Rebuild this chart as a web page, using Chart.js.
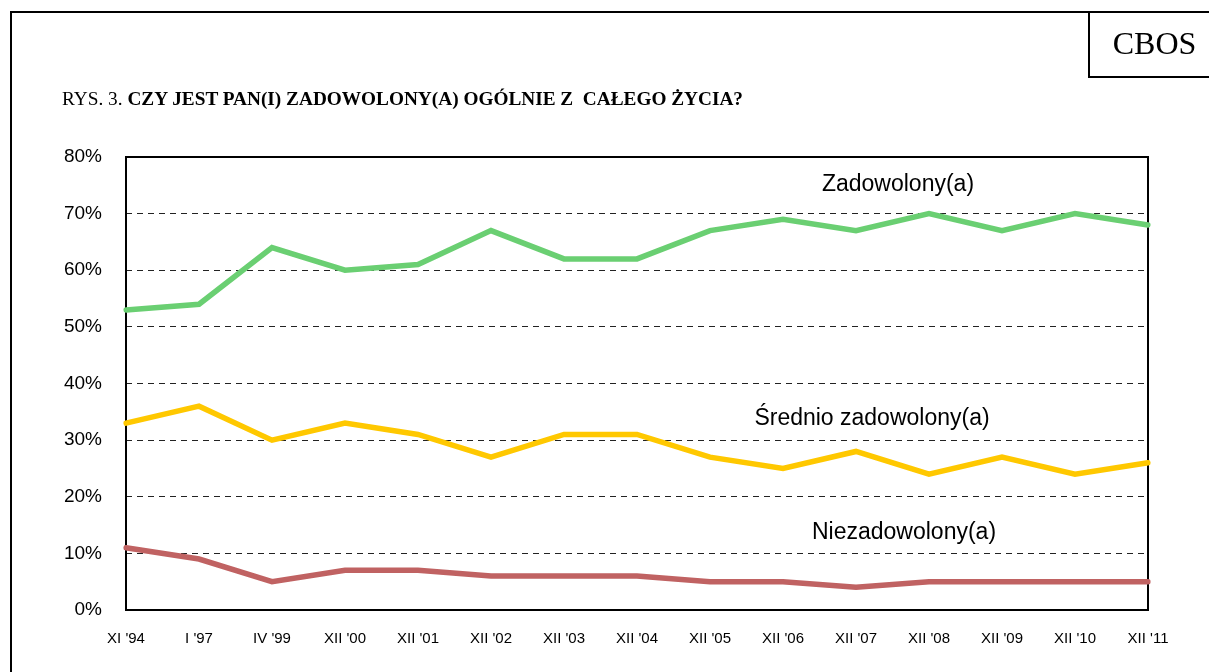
<!DOCTYPE html>
<html>
<head>
<meta charset="utf-8">
<script src="https://cdn.jsdelivr.net/npm/chart.js@4"></script>
<style>
  body { margin: 0; background: #fff; width: 1209px; height: 672px; overflow: hidden; position: relative; }
  #frameTop { position: absolute; left: 10px; top: 11px; width: 1199px; height: 2px; background: #000; }
  #frameLeft { position: absolute; left: 10px; top: 11px; width: 2px; height: 661px; background: #000; }
  #cbos { position: absolute; left: 1088px; top: 11px; width: 121px; height: 67px; border-left: 2px solid #000; border-bottom: 2px solid #000; box-sizing: border-box;
    font-family: "Liberation Serif", "Times New Roman", serif; font-size: 32px; line-height: 64px; text-align: center; padding-left: 10px; }
  #title { position: absolute; left: 62px; top: 88px; font-family: "Liberation Serif", "Times New Roman", serif; font-size: 19.3px; white-space: pre; }
  #title b { font-weight: bold; }
  .lbl { position: absolute; font-family: "Liberation Sans", Arial, sans-serif; font-size: 23px; white-space: nowrap; transform: translate(-50%, -50%); }
  #wrap { position: absolute; left: 0; top: 0; width: 1209px; height: 672px; }
</style>
</head>
<body>
<div id="wrap"><canvas id="chart" width="1209" height="672"></canvas></div>
<div id="frameTop"></div>
<div id="frameLeft"></div>
<div id="cbos">CBOS</div>
<div id="title">RYS. 3. <b>CZY JEST PAN(I) ZADOWOLONY(A) OGÓLNIE Z  CAŁEGO ŻYCIA?</b></div>
<div class="lbl" style="left:898px; top:183px;">Zadowolony(a)</div>
<div class="lbl" style="left:872px; top:417px;">Średnio zadowolony(a)</div>
<div class="lbl" style="left:904px; top:531px;">Niezadowolony(a)</div>
<script>
const categories = ["XI '94", "I '97", "IV '99", "XII '00", "XII '01", "XII '02", "XII '03", "XII '04", "XII '05", "XII '06", "XII '07", "XII '08", "XII '09", "XII '10", "XII '11"];
const zadowolony = [53, 54, 64, 60, 61, 67, 62, 62, 67, 69, 67, 70, 67, 70, 68];
const srednio = [33, 36, 30, 33, 31, 27, 31, 31, 27, 25, 28, 24, 27, 24, 26];
const niezadowolony = [11, 9, 5, 7, 7, 6, 6, 6, 5, 5, 4, 5, 5, 5, 5];
const yTicks = [0, 10, 20, 30, 40, 50, 60, 70, 80];

// solid frame round the plot area
const boxPlugin = {
  id: 'box',
  beforeDatasetsDraw(chart) {
    const a = chart.chartArea;
    const ctx = chart.ctx;
    ctx.save();
    ctx.strokeStyle = '#000';
    ctx.lineWidth = 2;
    ctx.strokeRect(a.left, a.top, a.right - a.left, a.bottom - a.top);
    ctx.restore();
  }
};

const ctx = document.getElementById('chart').getContext('2d');
new Chart(ctx, {
  type: 'line',
  data: {
    labels: categories,
    datasets: [
      { label: 'Zadowolony(a)', data: zadowolony, borderColor: '#6acf72' },
      { label: 'Średnio zadowolony(a)', data: srednio, borderColor: '#ffc800' },
      { label: 'Niezadowolony(a)', data: niezadowolony, borderColor: '#c06262' }
    ]
  },
  options: {
    responsive: false,
    animation: false,
    devicePixelRatio: 1,
    layout: { padding: { top: 157, right: 61, bottom: 0, left: 0 } },
    elements: {
      line: { borderWidth: 5.5, tension: 0, borderCapStyle: 'round', borderJoinStyle: 'miter' },
      point: { radius: 0 }
    },
    plugins: { legend: { display: false }, tooltip: { enabled: false } },
    scales: {
      x: {
        offset: false,
        grid: { display: false },
        border: { display: false },
        ticks: { color: '#000', font: { family: 'Liberation Sans', size: 15 }, padding: 12, maxRotation: 0, autoSkip: false },
        afterFit(scale) { scale.height = 62; }
      },
      y: {
        min: 0,
        max: 80,
        afterBuildTicks(scale) { scale.ticks = yTicks.map(v => ({ value: v })); },
        grid: {
          drawTicks: false,
          color: c => (c.tick.value === 0 || c.tick.value === 80) ? 'rgba(0,0,0,0)' : '#222',
          lineWidth: 1
        },
        border: { display: false, dash: [6, 5] },
        ticks: { color: '#000', font: { family: 'Liberation Sans', size: 19 }, padding: 24, callback: v => v + '%' },
        afterFit(scale) { scale.width = 126; }
      }
    }
  },
  plugins: [boxPlugin]
});
</script>
</body>
</html>
